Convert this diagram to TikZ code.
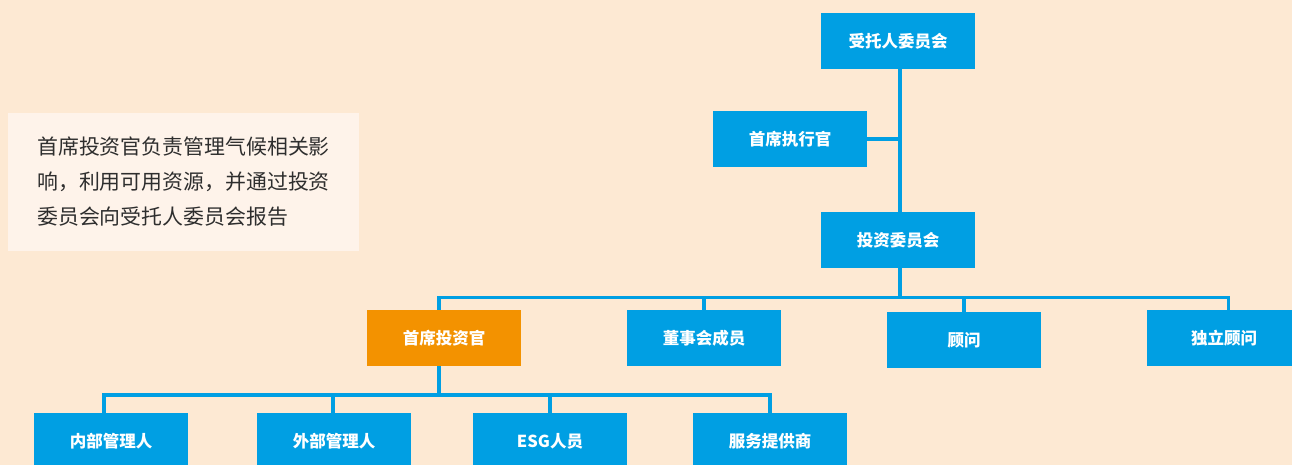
\documentclass[tikz,border=0pt]{standalone}
\usepackage{fontspec}
\newfontfamily\cjk{Noto Sans CJK SC}
\definecolor{bgc}{HTML}{FDE9D3}
\definecolor{notec}{HTML}{FEF3EA}
\definecolor{bluec}{HTML}{009FE3}
\definecolor{orangec}{HTML}{F39200}
\definecolor{txtc}{HTML}{2E2E2E}
\tikzset{
  orgbox/.style={rectangle, fill=bluec, minimum width=154pt, minimum height=56pt, inner sep=0pt, text=white, font=\cjk\bfseries\fontsize{16.5}{16.5}\selectfont},
  hibox/.style={orgbox, fill=orangec},
  conn/.style={draw=bluec, line width=3.5pt, line join=miter}
}
\begin{document}
\begin{tikzpicture}[x=1pt,y=-1pt]
\fill[bgc] (0,0) rectangle (1292,465);
\useasboundingbox (0,0) rectangle (1292,465);
\clip (0,0) rectangle (1292,465);
% note box
\fill[notec] (8,113) rectangle (359,251);
\node[anchor=west, align=left, inner sep=0pt, text=txtc, font=\cjk\fontsize{20.9}{35}\selectfont] (note) at (37,182)
  {首席投资官负责管理气候相关影\\响，利用可用资源，并通过投资\\委员会向受托人委员会报告};
% bus coordinates
\coordinate (b1) at (0,297.5);
\coordinate (b2) at (0,395);
\node[orgbox] (trustee) at (898,41) {受托人委员会};
\node[orgbox] (ceo) at (790,139) {首席执行官};
\node[orgbox] (ic) at (898,240) {投资委员会};
\node[hibox] (cio) at (444,338) {首席投资官};
\node[orgbox] (board) at (704,338) {董事会成员};
\node[orgbox] (adv) at (964,340) {顾问};
\node[orgbox] (ind) at (1224,338) {独立顾问};
\node[orgbox] (inner) at (111,441) {内部管理人};
\node[orgbox] (ext) at (334,441) {外部管理人};
\node[orgbox] (esg) at (550,441) {ESG人员};
\node[orgbox] (svc) at (770,441) {服务提供商};
% connectors
\draw[conn] ([xshift=2pt]trustee.south) -- ([xshift=2pt]ic.north);
\draw[conn] (ceo.east) -- ([xshift=2pt]trustee.south |- ceo.east);
\draw[conn] ([xshift=2pt]ic.south) -- ([xshift=2pt]ic.south |- b1);
\draw[conn] ([xshift=-5pt]cio.north) |- ([xshift=4.5pt]ind.north |- b1) -- ([xshift=4.5pt]ind.north);
\draw[conn] (board.north) -- (board.north |- b1);
\draw[conn] (adv.north) -- (adv.north |- b1);
\draw[conn] ([xshift=-5pt]cio.south) -- ([xshift=-5pt]cio.south |- b2);
\draw[conn] ([xshift=-7pt]inner.north) |- (svc.north |- b2) -- (svc.north);
\draw[conn] ([xshift=-1pt]ext.north) -- ([xshift=-1pt]ext.north |- b2);
\draw[conn] (esg.north) -- (esg.north |- b2);
\end{tikzpicture}
\end{document}
